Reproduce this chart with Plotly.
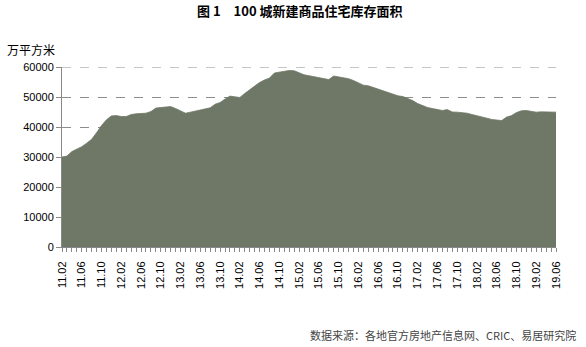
import plotly.graph_objects as go

# Monthly inventory, 2011.02 - 2019.06 (万平方米)
months = []
y, m = 2011, 2
while (y, m) <= (2019, 6):
    months.append(f"{y % 100:02d}.{m:02d}")
    m += 1
    if m > 12:
        y, m = y + 1, 1

inventory = [
    30000, 30300, 31800, 32600, 33450, 34600, 35900, 38100, 40500, 42400,
    43700, 43800, 43500, 43500, 44150, 44400, 44600, 44600, 45150, 46300,
    46500, 46600, 46800, 46150, 45500, 44600, 44950, 45300, 45500, 45950,
    46400, 47600, 48150, 49300, 50300, 50050, 49850, 51200, 52500, 53600,
    54850, 55700, 56300, 58000, 58300, 58650, 58850, 58750, 58000, 57400,
    57100, 56750, 56400, 56100, 55800, 57000, 56750, 56400, 56100, 55500,
    54700, 53950, 53750, 53200, 52750, 52200, 51600, 50950, 50400, 50150,
    49600, 48800, 47800, 47150, 46500, 46150, 45950, 45500, 45800, 45000,
    44950, 44900, 44600, 44150, 43800, 43500, 42950, 42500, 42350, 42150,
    43300, 43800, 44800, 45400, 45500, 45150, 44950, 45050, 44950, 45000,
    44950,
]

y_ticks = [0, 10000, 20000, 30000, 40000, 50000, 60000]
y_max = 60000

idx = list(range(len(months)))
tick_text = [lab if i % 4 == 0 else "" for i, lab in enumerate(months)]

fig = go.Figure()
fig.add_trace(go.Scatter(
    x=idx, y=inventory, mode="lines", fill="tozeroy",
    line=dict(color="#6f7866", width=0.8),
    fillcolor="#6f7866", hoverinfo="x+y",
))

# top gridline sits on the plot edge, so draw it explicitly
fig.add_shape(type="line", xref="x", yref="y", x0=0, x1=len(months) - 1,
              y0=y_max, y1=y_max, layer="below",
              line=dict(color="#8c8c8c", width=1, dash="dash"))

fig.update_layout(
    width=586, height=347,
    margin=dict(l=62, r=30, t=67, b=100),
    paper_bgcolor="white", plot_bgcolor="white",
    showlegend=False,
    font=dict(family="Liberation Sans, Arial, sans-serif", size=11, color="#000"),
    xaxis=dict(
        range=[0, len(months) - 1], tickmode="array", tickvals=idx, ticktext=tick_text,
        tickangle=-90, ticks="outside", ticklen=4, tickcolor="#888", tickwidth=1,
        showline=True, linecolor="#888", linewidth=1, showgrid=False, zeroline=False,
        tickfont=dict(size=11), ticklabelstandoff=5,
    ),
    yaxis=dict(
        range=[0, y_max], tickmode="array", tickvals=y_ticks,
        ticktext=[str(v) for v in y_ticks],
        ticks="outside", ticklen=5, tickcolor="#888", showline=True, linecolor="#888",
        linewidth=1, showgrid=True, gridcolor="#8c8c8c", griddash="dash", gridwidth=1,
        zeroline=False, tickfont=dict(size=11),
    ),
)

# page-pixel positions of the text blocks, converted to paper coordinates
texts = [
    ("<b>图 1　100 城新建商品住宅库存面积</b>", 300, 10, "center", 13, "#000"),
    ("万平方米", 5, 50, "left", 12, "#000"),
    ("数据来源：各地官方房地产信息网、CRIC、易居研究院", 578, 335, "right", 11, "#444"),
]
for text, px, py, anchor, size, color in texts:
    fig.add_annotation(
        text=text, xref="paper", yref="paper",
        x=(px - 62) / 494, y=(347 - 100 - py) / 180,
        xanchor=anchor, yanchor="middle", showarrow=False,
        font=dict(family="Noto Sans CJK SC", size=size, color=color),
    )

fig.write_html("out.html")
